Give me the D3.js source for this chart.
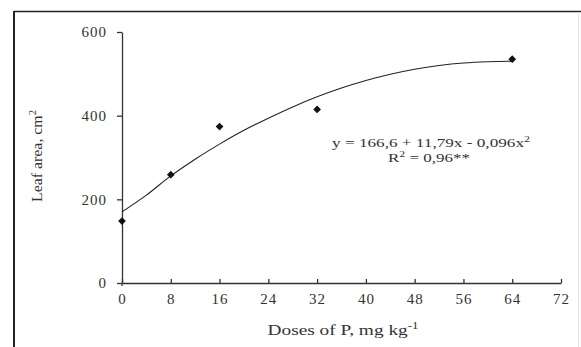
<!DOCTYPE html>
<html>
<head>
<meta charset="utf-8">
<script src="https://cdn.jsdelivr.net/npm/d3@7"></script>
<style>
  body { margin: 0; background: #fff; }
  svg text { font-family: "Liberation Serif", "Times New Roman", serif; fill: #333; }
</style>
</head>
<body>
<div id="chart"></div>
<script>
// Observed doses and leaf area
var doses = [0, 8, 16, 32, 64];
var leafArea = [148, 259, 374, 415, 535];

// Fitted curve
var curveX = [0, 4, 8, 12, 16, 20, 24, 28, 32, 36, 40, 44, 48, 52, 56, 60, 64];
var curveY = [170, 210, 256, 296, 332, 365, 394, 421, 445, 466, 484, 499, 511, 520, 526, 529, 530];

var xTicks = [0, 8, 16, 24, 32, 40, 48, 56, 64, 72];
var yTicks = [0, 200, 400, 600];

var svgWidth = 581, svgHeight = 347;
var margin = { top: 32, right: 20, bottom: 64, left: 122 };
var width = 561 - margin.left;
var height = 283 - margin.top;

var svg = d3.select('#chart')
    .append('svg')
    .attr('width', svgWidth)
    .attr('height', svgHeight);

// Frame lines of the original figure
svg.append('line')
    .attr('x1', 14).attr('y1', 11.5).attr('x2', svgWidth).attr('y2', 11.5)
    .attr('stroke', '#222').attr('stroke-width', 1.5);
svg.append('line')
    .attr('x1', 14).attr('y1', 11).attr('x2', 14).attr('y2', svgHeight)
    .attr('stroke', '#222').attr('stroke-width', 2);
svg.append('line')
    .attr('x1', 578.5).attr('y1', 12).attr('x2', 578.5).attr('y2', svgHeight)
    .attr('stroke', '#e4e4e4').attr('stroke-width', 1);

var chartGroup = svg.append('g')
    .attr('transform', `translate(${margin.left}, ${margin.top})`);

var xScale = d3.scaleLinear().domain([0, 72]).range([0, width]);
var yScale = d3.scaleLinear().domain([0, 600]).range([height, 0]);

var bottomAxis = d3.axisBottom(xScale)
    .tickValues(xTicks)
    .tickSizeInner(-4)
    .tickSizeOuter(0)
    .tickPadding(10);
var leftAxis = d3.axisLeft(yScale)
    .tickValues(yTicks)
    .tickSizeInner(5)
    .tickSizeOuter(0)
    .tickPadding(10);

var xAxisG = chartGroup.append('g')
    .attr('transform', `translate(0, ${height})`)
    .call(bottomAxis);
var yAxisG = chartGroup.append('g')
    .call(leftAxis);

[xAxisG, yAxisG].forEach(function(g) {
    g.select('.domain').attr('stroke', '#333').attr('stroke-width', 1.3);
    g.selectAll('.tick line').attr('stroke', '#333').attr('stroke-width', 1.3);
    g.selectAll('.tick text')
        .attr('font-size', 15)
        .attr('letter-spacing', 1)
        .attr('fill', '#333');
});
xAxisG.selectAll('.tick text').attr('dy', '0.71em');

// small stub of the y axis below the origin
chartGroup.append('line')
    .attr('x1', xScale(0)).attr('x2', xScale(0))
    .attr('y1', height).attr('y2', height + 3)
    .attr('stroke', '#333').attr('stroke-width', 1.3);

// Fitted curve
var line = d3.line()
    .x(function(d, i) { return xScale(curveX[i]); })
    .y(function(d) { return yScale(d); })
    .curve(d3.curveMonotoneX);

chartGroup.append('path')
    .datum(curveY)
    .attr('d', line)
    .attr('fill', 'none')
    .attr('stroke', '#222')
    .attr('stroke-width', 1.1);

// Observed points
var diamond = d3.symbol().type(d3.symbolSquare).size(30);
chartGroup.selectAll('.pt')
    .data(leafArea)
    .enter()
    .append('path')
    .attr('class', 'pt')
    .attr('d', diamond)
    .attr('transform', function(d, i) {
        return `translate(${xScale(doses[i])}, ${yScale(d)}) rotate(45)`;
    })
    .attr('fill', '#111');

// Equation
var eq1 = svg.append('text')
    .attr('x', 431).attr('y', 147)
    .attr('text-anchor', 'middle')
    .attr('font-size', 13)
    .attr('textLength', 198)
    .attr('lengthAdjust', 'spacingAndGlyphs');
eq1.append('tspan').text('y = 166,6 + 11,79x - 0,096x');
eq1.append('tspan').attr('font-size', 9).attr('dy', -5).text('2');

var eq2 = svg.append('text')
    .attr('x', 429).attr('y', 162)
    .attr('text-anchor', 'middle')
    .attr('font-size', 13)
    .attr('textLength', 82)
    .attr('lengthAdjust', 'spacingAndGlyphs');
eq2.append('tspan').text('R');
eq2.append('tspan').attr('font-size', 9).attr('dy', -5).text('2');
eq2.append('tspan').attr('dy', 5).text(' = 0,96**');

// Axis labels
var xl = svg.append('text')
    .attr('x', 343).attr('y', 335)
    .attr('text-anchor', 'middle')
    .attr('font-size', 15)
    .attr('textLength', 151)
    .attr('lengthAdjust', 'spacingAndGlyphs');
xl.append('tspan').text('Doses of P, mg  kg');
xl.append('tspan').attr('font-size', 10).attr('dy', -6).text('-1');

var yl = svg.append('text')
    .attr('transform', 'translate(42, 156) rotate(-90)')
    .attr('text-anchor', 'middle')
    .attr('font-size', 15)
    .attr('textLength', 92)
    .attr('lengthAdjust', 'spacingAndGlyphs');
yl.append('tspan').text('Leaf  area, cm');
yl.append('tspan').attr('font-size', 10).attr('dy', -6).text('2');
</script>
</body>
</html>
